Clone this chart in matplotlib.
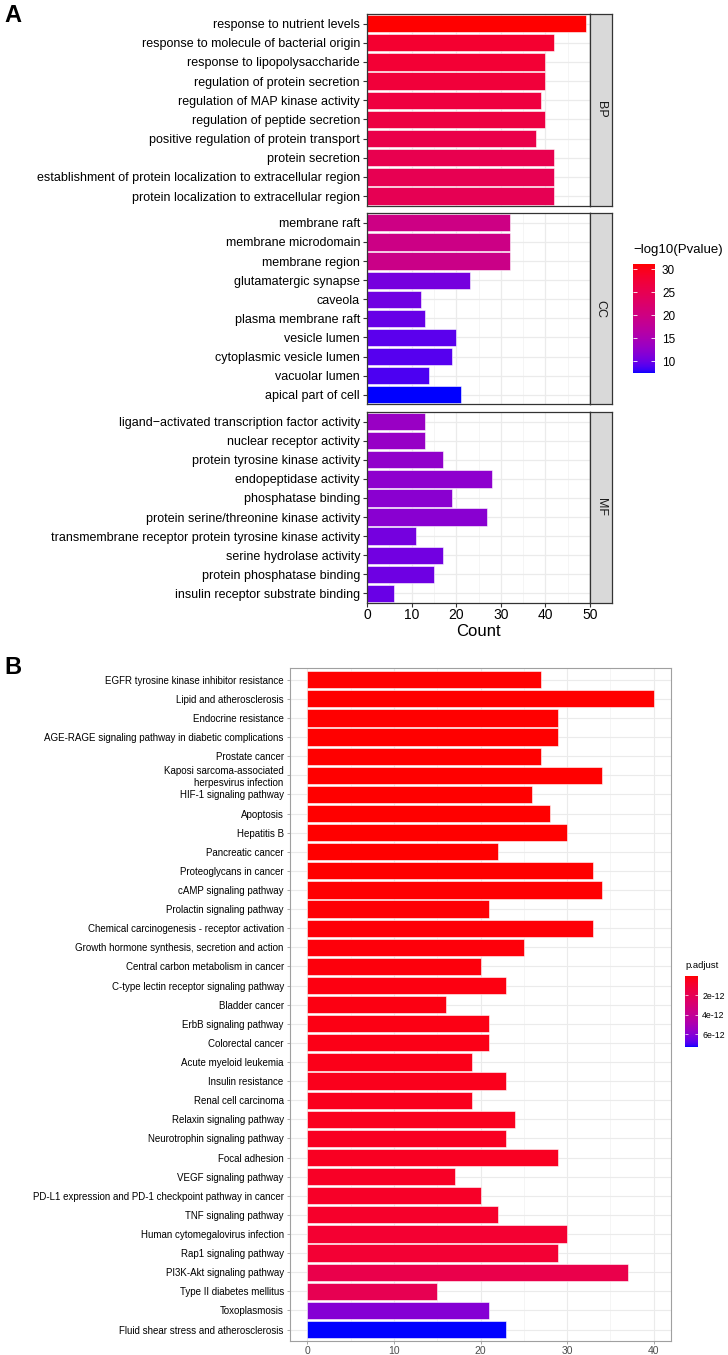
import matplotlib
matplotlib.use("Agg")
import matplotlib.pyplot as plt
import numpy as np
from matplotlib.colors import ListedColormap, Normalize
from matplotlib.cm import ScalarMappable

plt.rcParams['font.family'] = ['Liberation Sans', 'DejaVu Sans']

# ---- panel A data (GO enrichment) ----
bp_terms = ["response to nutrient levels",
            "response to molecule of bacterial origin",
            "response to lipopolysaccharide",
            "regulation of protein secretion",
            "regulation of MAP kinase activity",
            "regulation of peptide secretion",
            "positive regulation of protein transport",
            "protein secretion",
            "establishment of protein localization to extracellular region",
            "protein localization to extracellular region"]
bp_count = [49, 42, 40, 40, 39, 40, 38, 42, 42, 42]
bp_logp = [31.2, 28.3, 27.8, 27.3, 26.8, 26.5, 25.8, 25.3, 25.0, 24.8]

cc_terms = ["membrane raft", "membrane microdomain", "membrane region",
            "glutamatergic synapse", "caveola", "plasma membrane raft",
            "vesicle lumen", "cytoplasmic vesicle lumen", "vacuolar lumen",
            "apical part of cell"]
cc_count = [32, 32, 32, 23, 12, 13, 20, 19, 14, 21]
cc_logp = [19.8, 19.6, 19.4, 10.6, 10.2, 9.8, 9.2, 9.0, 8.7, 7.4]

mf_terms = ["ligand\u2212activated transcription factor activity",
            "nuclear receptor activity",
            "protein tyrosine kinase activity",
            "endopeptidase activity",
            "phosphatase binding",
            "protein serine/threonine kinase activity",
            "transmembrane receptor protein tyrosine kinase activity",
            "serine hydrolase activity",
            "protein phosphatase binding",
            "insulin receptor substrate binding"]
mf_count = [13, 13, 17, 28, 19, 27, 11, 17, 15, 6]
mf_logp = [13.2, 13.0, 12.6, 12.3, 12.0, 11.9, 10.5, 10.3, 10.1, 9.9]

# ---- panel B data (KEGG enrichment) ----
kegg_terms = ["EGFR tyrosine kinase inhibitor resistance",
              "Lipid and atherosclerosis",
              "Endocrine resistance",
              "AGE-RAGE signaling pathway in diabetic complications",
              "Prostate cancer",
              "Kaposi sarcoma-associated\nherpesvirus infection",
              "HIF-1 signaling pathway",
              "Apoptosis",
              "Hepatitis B",
              "Pancreatic cancer",
              "Proteoglycans in cancer",
              "cAMP signaling pathway",
              "Prolactin signaling pathway",
              "Chemical carcinogenesis - receptor activation",
              "Growth hormone synthesis, secretion and action",
              "Central carbon metabolism in cancer",
              "C-type lectin receptor signaling pathway",
              "Bladder cancer",
              "ErbB signaling pathway",
              "Colorectal cancer",
              "Acute myeloid leukemia",
              "Insulin resistance",
              "Renal cell carcinoma",
              "Relaxin signaling pathway",
              "Neurotrophin signaling pathway",
              "Focal adhesion",
              "VEGF signaling pathway",
              "PD-L1 expression and PD-1 checkpoint pathway in cancer",
              "TNF signaling pathway",
              "Human cytomegalovirus infection",
              "Rap1 signaling pathway",
              "PI3K-Akt signaling pathway",
              "Type II diabetes mellitus",
              "Toxoplasmosis",
              "Fluid shear stress and atherosclerosis"]
kegg_count = [27, 40, 29, 29, 27, 34, 26, 28, 30, 22, 33, 34, 21, 33, 25, 20, 23, 16,
              21, 21, 19, 23, 19, 24, 23, 29, 17, 20, 22, 30, 29, 37, 15, 21, 23]
kegg_padj = [1e-17, 3e-17, 8e-17, 2e-16, 5e-16, 1e-15, 2e-15, 4e-15, 8e-15, 1.5e-14,
             2.5e-14, 4e-14, 6e-14, 9e-14, 1.2e-13, 1.6e-13, 2e-13, 2.4e-13, 2.8e-13,
             3.2e-13, 3.6e-13, 4e-13, 4.4e-13, 4.8e-13, 5.2e-13, 5.6e-13, 6.5e-13,
             7e-13, 7.5e-13, 9.5e-13, 1.0e-12, 1.7e-12, 1.9e-12, 6.0e-12, 7.3e-12]


# blue -> red gradient interpolated in Lab, like ggplot's scale_fill_gradient
M = np.array([[0.4124, 0.3576, 0.1805],
              [0.2126, 0.7152, 0.0722],
              [0.0193, 0.1192, 0.9505]])
WHITE = np.array([0.95047, 1.0, 1.08883])

def srgb_to_lab(rgb):
    rgb = np.asarray(rgb, float)
    lin = np.where(rgb <= 0.04045, rgb / 12.92, ((rgb + 0.055) / 1.055) ** 2.4)
    t = (M @ lin) / WHITE
    f = np.where(t > (6 / 29) ** 3, np.cbrt(t), t / (3 * (6 / 29) ** 2) + 4 / 29)
    return np.array([116 * f[1] - 16, 500 * (f[0] - f[1]), 200 * (f[1] - f[2])])

def lab_to_srgb(lab):
    L, a, b = lab
    fy = (L + 16) / 116
    f = np.array([fy + a / 500, fy, fy - b / 200])
    t = np.where(f > 6 / 29, f ** 3, 3 * (6 / 29) ** 2 * (f - 4 / 29))
    lin = np.clip(np.linalg.inv(M) @ (t * WHITE), 0, 1)
    rgb = np.where(lin <= 0.0031308, 12.92 * lin, 1.055 * lin ** (1 / 2.4) - 0.055)
    return np.clip(rgb, 0, 1)

lab_lo = srgb_to_lab([0, 0, 1])
lab_hi = srgb_to_lab([1, 0, 0])
grad = [lab_to_srgb(lab_lo + (lab_hi - lab_lo) * s) for s in np.linspace(0, 1, 256)]
cmap = ListedColormap(grad)
cmap_r = cmap.reversed()

W, H = 728, 1355
fig = plt.figure(figsize=(W / 100, H / 100), dpi=100)

def box(x0, y0, x1, y1):
    return [x0 / W, 1 - y1 / H, (x1 - x0) / W, (y1 - y0) / H]

# ---------------- panel A ----------------
normA = Normalize(min(bp_logp + cc_logp + mf_logp), max(bp_logp + cc_logp + mf_logp))
panels = [("BP", bp_terms, bp_count, bp_logp, 14, 205.7),
          ("CC", cc_terms, cc_count, cc_logp, 213.3, 404.3),
          ("MF", mf_terms, mf_count, mf_logp, 412.3, 602.7)]

for i, (name, terms, counts, vals, top, bot) in enumerate(panels):
    ax = fig.add_axes(box(367, top, 590, bot))
    ax.barh(np.arange(len(terms)), counts, height=0.9, color=cmap(normA(vals)),
            edgecolor='white', linewidth=0.4, zorder=2)
    ax.set_xlim(0, 50)
    ax.set_ylim(len(terms) - 0.5, -0.5)
    ax.set_yticks(np.arange(len(terms)))
    ax.set_yticklabels(terms, fontsize=9, color='black')
    ax.set_xticks(range(0, 51, 10))
    ax.set_xticks(range(5, 50, 10), minor=True)
    ax.grid(which='major', color='#ebebeb', linewidth=0.9, zorder=0)
    ax.grid(which='minor', axis='x', color='#f2f2f2', linewidth=0.5, zorder=0)
    ax.set_axisbelow(True)
    ax.tick_params(axis='y', length=3, width=0.8, color='#333333', pad=2)
    ax.tick_params(axis='x', which='minor', length=0)
    for s in ax.spines.values():
        s.set_color('#333333')
        s.set_linewidth(0.9)
    if i < 2:
        ax.tick_params(axis='x', which='major', bottom=False, labelbottom=False)
    else:
        ax.tick_params(axis='x', which='major', length=3, width=0.8, color='#333333',
                       labelsize=10, labelcolor='black', pad=1)
        ax.set_xlabel("Count", fontsize=12, labelpad=1)

    sax = fig.add_axes(box(590, top, 611.7, bot))
    sax.set_facecolor('#d9d9d9')
    sax.set_xticks([])
    sax.set_yticks([])
    for s in sax.spines.values():
        s.set_color('#333333')
        s.set_linewidth(0.9)
    sax.text(0.5, 0.5, name, rotation=-90, ha='center', va='center',
             fontsize=9, color='#1a1a1a', transform=sax.transAxes)

caxA = fig.add_axes(box(633, 264, 655, 373))
cbA = fig.colorbar(ScalarMappable(normA, cmap), cax=caxA, ticks=[10, 15, 20, 25, 30])
cbA.outline.set_visible(False)
caxA.tick_params(direction='in', color='white', length=3, width=0.6,
                 left=True, right=True, labelsize=8.5, pad=5)
fig.text(633 / W, 1 - 250 / H, "\u2212log10(Pvalue)", fontsize=9.5, va='center')

fig.text(4 / W, 1 - 16 / H, "A", fontsize=17, fontweight='bold', va='center')

# ---------------- panel B ----------------
normB = Normalize(min(kegg_padj), max(kegg_padj))
axb = fig.add_axes(box(290, 668.3, 671, 1341))
yb = np.arange(len(kegg_terms))
axb.barh(yb, kegg_count, height=0.9, color=cmap_r(normB(kegg_padj)),
         edgecolor='white', linewidth=0.4, zorder=2)
axb.set_xlim(-2, 42)
axb.set_ylim(len(kegg_terms) - 1 + 0.6, -0.6)
axb.set_yticks(yb)
axb.set_yticklabels(kegg_terms, fontsize=7, color='black', linespacing=1.2)
axb.set_xticks(range(0, 41, 10))
axb.set_xticks(range(5, 41, 10), minor=True)
axb.grid(which='major', color='#ebebeb', linewidth=0.8, zorder=0)
axb.grid(which='minor', axis='x', color='#f2f2f2', linewidth=0.5, zorder=0)
axb.set_axisbelow(True)
axb.tick_params(axis='y', length=2.5, width=0.6, color='#999999', pad=2)
axb.tick_params(axis='x', which='major', length=2.5, width=0.6, color='#999999',
                labelsize=7.5, labelcolor='#4d4d4d', pad=1)
axb.tick_params(axis='x', which='minor', length=0)
for s in axb.spines.values():
    s.set_color('#a0a0a0')
    s.set_linewidth(0.8)

caxB = fig.add_axes(box(685, 976, 698, 1047))
cbB = fig.colorbar(ScalarMappable(normB, cmap_r), cax=caxB, ticks=[2e-12, 4e-12, 6e-12])
cbB.outline.set_visible(False)
caxB.invert_yaxis()
caxB.set_yticklabels(["2e-12", "4e-12", "6e-12"])
caxB.tick_params(direction='in', color='white', length=2, width=0.5,
                 left=True, right=True, labelsize=6.3, pad=3)
fig.text(685 / W, 1 - 966 / H, "p.adjust", fontsize=6.8, va='center')

fig.text(4 / W, 1 - 668 / H, "B", fontsize=17, fontweight='bold', va='center')

fig.savefig("out.png", dpi=100)
